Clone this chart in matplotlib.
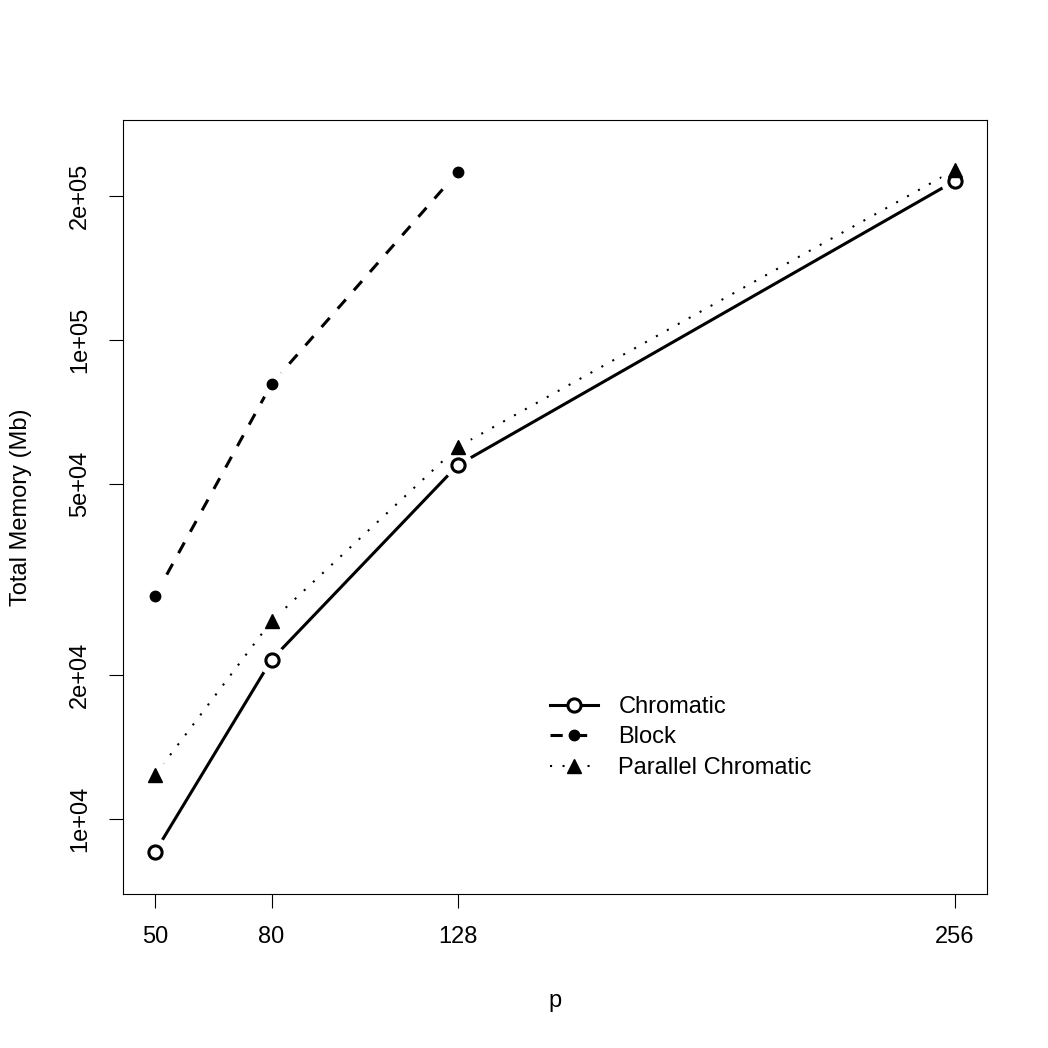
import numpy as np
import matplotlib
matplotlib.use("Agg")
import matplotlib.pyplot as plt

plt.rcParams['font.family'] = ['Liberation Sans', 'DejaVu Sans']

# values
p = [50, 80, 128, 256]
chromatic = [8530, 21500, 54800, 214800]
block_p = [50, 80, 128]
block = [29200, 80900, 224200]
parallel = [12350, 25900, 59800, 226500]

yticks = [1e4, 2e4, 5e4, 1e5, 2e5]
ytick_labels = ['1e+04', '2e+04', '5e+04', '1e+05', '2e+05']

fig = plt.figure(figsize=(10.48, 10.48), dpi=100)
W = H = 1048
ax = fig.add_axes([123 / W, 1 - 894 / H, (987 - 123) / W, (894 - 120) / H])

ax.set_yscale('log')
lw = 2.2
fs = 17

# lines first, then white blobs to make the R type="b" gaps, then markers
ax.plot(p, chromatic, c='k', lw=lw, zorder=2)
ax.plot(block_p, block, c='k', lw=lw, dashes=(4, 4), zorder=2)
ax.plot(p, parallel, c='k', lw=1.5, dashes=(1, 5), zorder=2)

for xs, ys in [(p, chromatic), (block_p, block), (p, parallel)]:
    ax.plot(xs, ys, ls='none', marker='o', ms=21, mfc='white', mec='none', zorder=3)

ax.plot(p, chromatic, ls='none', marker='o', ms=9.5, mfc='white', mec='k', mew=2.2, zorder=4)
ax.plot(block_p, block, ls='none', marker='o', ms=7.5, mfc='k', mec='k', zorder=4)
ax.plot(p, parallel, ls='none', marker='^', ms=10, mfc='k', mec='k', zorder=4)

# legend handles
h1, = ax.plot([], [], c='k', lw=lw, marker='o', ms=9.5, mfc='white', mec='k', mew=2.2)
h2, = ax.plot([], [], c='k', lw=lw, dashes=(4, 4), marker='o', ms=7.5, mfc='k')
h3, = ax.plot([], [], c='k', lw=1.5, dashes=(1, 5), marker='^', ms=10, mfc='k')
leg = ax.legend([h1, h2, h3], ['Chromatic', 'Block', 'Parallel Chromatic'],
                loc='upper left', bbox_to_anchor=(538 / W, 1 - 684 / H),
                bbox_transform=fig.transFigure, frameon=False, fontsize=fs,
                handlelength=2.05, handletextpad=0.85, labelspacing=0.36,
                borderpad=0, numpoints=1)

ax.set_xlim(41.76, 264.24)
ax.set_ylim(10 ** 3.8434, 10 ** 5.459)
ax.set_xticks(p)
ax.set_xticklabels([str(v) for v in p])
ax.set_yticks(yticks)
ax.set_yticklabels(ytick_labels, rotation=90, va='center')
ax.minorticks_off()
ax.tick_params(axis='both', direction='out', length=10, width=0.8, labelsize=fs, pad=13)

for s in ax.spines.values():
    s.set_linewidth(0.8)

ax.set_xlabel('p', fontsize=fs, labelpad=30)
ax.set_ylabel('Total Memory (Mb)', fontsize=fs, labelpad=27)

fig.savefig('out.png', dpi=100)
